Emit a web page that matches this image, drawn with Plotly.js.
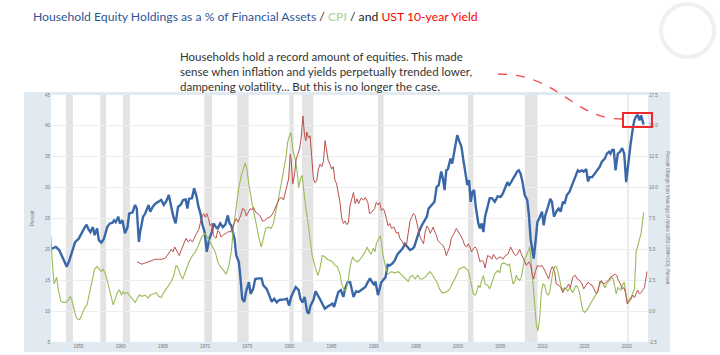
<!DOCTYPE html>
<html><head><meta charset="utf-8">
<script src="https://cdn.plot.ly/plotly-3.0.1.min.js"></script>
<style>html,body{margin:0;padding:0;background:#fff}#chart{width:720px;height:355px}</style>
</head><body><div id="chart"></div><script>
// Household equity holdings as % of financial assets (left axis, percent)
const equityYears = [1951.8,1952.3,1952.7,1953.0,1953.4,1953.6,1953.9,1954.25,1954.6,1955.0,1955.4,1955.75,1955.95,1956.15,1956.4,1956.7,1956.9,1957.2,1957.4,1957.7,1958.0,1958.4,1958.7,1959.0,1959.2,1959.4,1959.7,1959.9,1960.2,1960.5,1960.8,1961.0,1961.4,1961.7,1961.9,1962.15,1962.3,1962.65,1962.9,1963.3,1963.5,1963.8,1964.1,1964.5,1964.8,1965.1,1965.4,1965.7,1966.0,1966.2,1966.5,1966.8,1967.1,1967.4,1967.7,1967.9,1968.1,1968.45,1968.7,1969.0,1969.2,1969.45,1969.7,1969.95,1970.2,1970.5,1970.8,1971.0,1971.3,1971.5,1971.8,1972.1,1972.4,1972.7,1972.9,1973.1,1973.3,1973.5,1973.7,1974.0,1974.2,1974.4,1974.65,1974.85,1975.2,1975.4,1975.7,1975.95,1976.3,1976.7,1976.9,1977.3,1977.6,1977.9,1978.2,1978.5,1978.8,1979.1,1979.4,1979.7,1979.97,1980.2,1980.5,1980.75,1981.1,1981.3,1981.55,1981.8,1982.1,1982.3,1982.5,1982.85,1983.1,1983.4,1983.6,1983.9,1984.2,1984.5,1984.8,1985.1,1985.3,1985.6,1985.8,1986.1,1986.4,1986.6,1986.9,1987.2,1987.6,1987.9,1988.2,1988.6,1989.0,1989.3,1989.55,1989.8,1990.1,1990.2,1990.5,1990.6,1990.9,1991.1,1991.4,1991.65,1991.9,1992.2,1992.5,1992.8,1993.1,1993.4,1993.7,1994.0,1994.3,1994.6,1994.8,1995.1,1995.35,1995.7,1996.0,1996.3,1996.5,1996.85,1997.2,1997.45,1997.7,1998.0,1998.2,1998.4,1998.6,1998.8,1999.1,1999.3,1999.5,1999.7,1999.9,2000.1,2000.4,2000.6,2000.9,2001.1,2001.3,2001.5,2001.7,2001.9,2002.1,2002.4,2002.6,2002.8,2003.0,2003.2,2003.5,2003.75,2004.0,2004.35,2004.7,2005.05,2005.3,2005.6,2005.85,2006.04,2006.24,2006.5,2006.8,2007.0,2007.2,2007.4,2007.6,2007.9,2008.2,2008.4,2008.6,2008.8,2008.96,2009.2,2009.4,2009.7,2009.95,2010.15,2010.34,2010.66,2010.93,2011.13,2011.37,2011.64,2011.92,2012.16,2012.43,2012.63,2012.9,2013.2,2013.5,2013.8,2014.0,2014.2,2014.4,2014.7,2014.9,2015.2,2015.4,2015.6,2015.9,2016.2,2016.5,2016.8,2017.05,2017.4,2017.64,2017.9,2018.07,2018.27,2018.47,2018.67,2018.94,2019.2,2019.45,2019.7,2019.93,2020.2,2020.44,2020.72,2020.9,2021.1,2021.3,2021.5,2021.7,2022.0];
const equityShare = [20.1,20.4,19.9,19.0,17.9,17.2,18.2,19.9,21.2,21.7,22.8,23.6,24.0,23.3,22.8,23.6,22.3,23.4,21.5,21.1,21.7,23.6,24.2,24.3,24.7,24.4,25.3,24.2,24.7,22.6,23.6,25.8,26.0,27.2,26.6,21.2,22.8,25.3,25.8,27.2,26.1,26.9,27.4,27.7,28.0,27.2,27.8,28.8,26.9,25.5,24.2,26.9,27.2,28.0,28.1,26.6,28.2,28.3,29.9,28.5,27.0,25.8,23.9,22.8,19.6,21.7,22.8,24.2,23.6,23.4,24.2,23.6,24.0,25.5,24.2,23.9,22.8,21.7,19.0,18.0,15.3,12.0,11.5,13.1,14.7,12.8,13.6,15.2,15.3,15.3,14.2,13.6,12.6,11.5,12.0,11.4,11.8,11.8,11.9,12.0,10.9,12.3,13.1,13.9,13.4,12.0,11.4,12.3,9.9,9.6,10.9,11.8,13.2,12.6,12.0,11.2,10.4,10.7,10.9,11.2,10.7,12.0,13.1,13.4,12.3,13.6,14.7,14.7,12.3,13.2,13.1,13.5,13.9,14.7,15.3,14.7,14.2,14.8,12.6,13.1,14.7,15.0,15.5,17.5,17.4,17.7,18.2,19.2,19.7,20.1,20.9,20.4,19.9,20.1,20.4,21.7,22.8,23.9,24.7,25.3,26.6,27.2,27.7,30.1,30.4,32.6,31.5,29.6,32.8,33.0,34.7,33.9,35.5,37.4,38.5,37.7,36.6,34.7,32.3,30.4,31.2,27.7,29.3,29.6,26.9,24.2,23.4,24.2,22.8,25.3,26.9,28.3,28.3,27.7,28.6,28.5,29.0,29.9,30.9,30.3,30.7,31.4,32.1,32.6,32.8,32.3,31.2,28.8,28.0,25.5,21.7,20.1,18.5,21.5,24.4,25.3,26.1,23.9,25.5,26.9,28.2,27.7,25.3,26.1,26.6,26.1,27.7,27.4,28.8,29.3,30.4,31.5,32.3,32.8,32.6,32.8,32.6,33.0,31.0,31.7,31.7,32.3,32.7,33.4,34.2,34.7,35.5,35.8,35.5,36.1,36.1,32.8,35.5,35.8,36.4,35.5,30.9,34.7,36.9,39.6,40.9,41.5,41.8,40.9,41.7,40.2];

// CPI, percent change from year ago (right axis)
const cpiYears = [1951.7,1951.8,1951.96,1952.1,1952.3,1952.4,1952.6,1952.9,1953.15,1953.5,1953.8,1954.0,1954.2,1954.45,1954.7,1955.0,1955.2,1955.5,1955.75,1956.0,1956.3,1956.6,1956.9,1957.2,1957.4,1957.7,1957.9,1958.2,1958.5,1958.8,1959.1,1959.3,1959.6,1959.85,1960.1,1960.25,1960.5,1960.8,1961.0,1961.35,1961.7,1961.95,1962.2,1962.5,1962.9,1963.25,1963.5,1963.9,1964.2,1964.5,1964.8,1965.1,1965.4,1965.7,1966.0,1966.3,1966.55,1966.8,1967.1,1967.35,1967.7,1968.1,1968.5,1968.85,1969.2,1969.6,1969.95,1970.2,1970.5,1970.8,1971.2,1971.5,1971.8,1972.2,1972.5,1972.8,1973.1,1973.4,1973.7,1974.0,1974.3,1974.6,1974.76,1974.96,1975.2,1975.55,1975.87,1976.1,1976.4,1976.66,1976.9,1977.2,1977.5,1977.84,1978.1,1978.4,1978.7,1979.0,1979.3,1979.6,1979.8,1980.1,1980.2,1980.4,1980.68,1980.88,1981.1,1981.3,1981.5,1981.7,1981.95,1982.2,1982.45,1982.7,1983.0,1983.36,1983.6,1983.9,1984.2,1984.5,1984.8,1985.1,1985.4,1985.7,1986.0,1986.2,1986.5,1986.7,1986.9,1987.0,1987.2,1987.5,1987.8,1988.1,1988.4,1988.65,1989.0,1989.2,1989.4,1989.7,1989.95,1990.15,1990.3,1990.6,1990.8,1990.9,1991.1,1991.4,1991.7,1992.1,1992.5,1992.9,1993.2,1993.5,1993.8,1994.1,1994.3,1994.6,1994.9,1995.2,1995.5,1995.75,1996.1,1996.3,1996.65,1996.9,1997.25,1997.6,1997.8,1998.1,1998.4,1998.75,1999.0,1999.3,1999.6,1999.9,2000.1,2000.4,2000.7,2001.0,2001.2,2001.4,2001.6,2001.8,2002.0,2002.2,2002.4,2002.6,2002.8,2003.0,2003.2,2003.5,2003.75,2004.0,2004.35,2004.7,2004.95,2005.13,2005.4,2005.73,2005.9,2006.1,2006.3,2006.5,2006.7,2006.9,2007.1,2007.3,2007.5,2007.7,2007.9,2008.1,2008.3,2008.5,2008.7,2008.9,2009.1,2009.3,2009.47,2009.67,2009.87,2010.07,2010.26,2010.46,2010.66,2010.85,2011.05,2011.25,2011.45,2011.64,2011.84,2012.04,2012.24,2012.43,2012.63,2012.83,2013.02,2013.22,2013.4,2013.6,2013.8,2014.0,2014.2,2014.4,2014.6,2014.8,2015.0,2015.2,2015.4,2015.6,2015.8,2016.0,2016.2,2016.4,2016.6,2016.8,2017.0,2017.2,2017.4,2017.6,2017.8,2018.0,2018.2,2018.4,2018.55,2018.75,2018.95,2019.1,2019.3,2019.5,2019.7,2019.93,2020.13,2020.32,2020.52,2020.72,2020.92,2021.11,2021.3,2021.5,2021.7,2022.0];
const cpiYoY = [6.1,4.8,3.2,2.2,2.6,2.75,1.7,0.8,0.7,0.7,0.9,1.2,0.9,0.05,-0.5,-0.7,-0.6,-0.1,0.3,0.5,1.5,2.5,3.4,3.6,3.4,3.2,3.4,3.0,2.2,1.3,0.5,0.9,1.5,1.7,1.3,1.6,1.4,1.5,1.3,1.0,0.7,1.0,1.3,1.2,1.3,1.05,1.3,1.4,1.5,1.2,1.1,1.5,1.8,2.0,2.4,2.9,3.7,3.5,2.9,2.6,3.2,4.0,4.5,4.8,5.3,6.0,6.3,6.1,5.7,5.3,4.8,4.0,3.6,3.3,3.0,3.6,4.8,6.9,8.6,10.0,11.0,11.8,12.0,11.5,10.2,8.8,7.7,6.7,5.9,5.2,5.9,6.7,6.8,6.7,7.1,8.0,9.1,10.2,11.3,12.5,13.7,14.4,14.4,13.1,12.3,11.5,10.0,10.7,11.0,9.6,8.3,7.2,5.9,4.5,3.7,2.9,3.4,4.5,4.4,4.2,4.1,4.0,3.7,3.6,3.0,2.2,1.7,1.7,2.3,2.6,3.6,4.4,4.1,4.0,4.2,4.5,4.8,5.2,4.9,4.6,5.1,4.8,5.45,5.9,6.1,5.6,4.5,3.6,3.0,3.2,3.1,3.2,3.0,2.75,2.6,2.4,2.75,2.9,2.6,2.9,2.6,2.6,2.75,2.9,3.2,3.0,2.6,2.2,1.8,1.5,1.5,1.6,1.8,2.2,2.5,3.0,3.4,3.5,3.6,3.4,3.3,2.75,2.1,1.4,1.3,1.5,2.1,1.9,2.5,2.9,2.2,2.1,1.8,2.35,3.0,3.3,3.1,3.8,3.9,3.8,3.7,3.8,2.9,2.2,2.35,2.9,2.6,2.5,2.75,3.4,4.2,4.5,4.9,5.2,3.7,2.1,0.5,-1.2,-1.6,-0.6,1.5,2.2,2.1,1.5,1.3,1.5,2.35,3.2,3.6,3.6,3.2,2.6,1.9,1.7,1.9,1.8,1.6,1.9,1.7,1.5,1.8,2.1,1.9,1.5,0.7,0.05,-0.1,0.05,0.2,0.5,0.7,1.0,1.1,1.4,1.8,2.2,2.5,2.2,1.9,2.2,2.35,2.5,2.75,2.6,2.1,1.4,1.9,1.8,1.7,2.1,2.35,1.3,0.6,1.0,1.1,1.5,1.8,4.8,5.3,5.6,6.3,8.0];

// 10-year Treasury yield, percent (right axis)
const ustYears = [1961.95,1962.2,1962.5,1962.9,1963.3,1963.7,1964.1,1964.5,1964.9,1965.3,1965.5,1965.8,1966.0,1966.2,1966.4,1966.7,1966.95,1967.2,1967.5,1967.75,1968.0,1968.25,1968.5,1968.8,1969.0,1969.25,1969.56,1969.83,1970.03,1970.2,1970.4,1970.6,1970.8,1971.0,1971.3,1971.5,1971.7,1971.9,1972.2,1972.5,1972.8,1973.0,1973.2,1973.5,1973.7,1973.9,1974.2,1974.45,1974.7,1974.9,1975.1,1975.35,1975.55,1975.75,1976.0,1976.26,1976.54,1976.8,1977.05,1977.3,1977.6,1977.84,1978.1,1978.4,1978.6,1978.8,1979.1,1979.3,1979.5,1979.7,1979.9,1980.1,1980.2,1980.4,1980.6,1980.8,1981.0,1981.2,1981.4,1981.6,1981.8,1981.95,1982.06,1982.26,1982.45,1982.65,1982.85,1983.05,1983.25,1983.44,1983.64,1983.84,1984.03,1984.23,1984.43,1984.6,1984.8,1985.0,1985.2,1985.4,1985.6,1985.8,1986.0,1986.2,1986.4,1986.6,1986.8,1987.0,1987.2,1987.4,1987.6,1987.8,1988.0,1988.2,1988.5,1988.8,1989.0,1989.3,1989.5,1989.75,1990.1,1990.3,1990.5,1990.7,1990.9,1991.1,1991.25,1991.5,1991.7,1991.9,1992.1,1992.4,1992.7,1992.9,1993.1,1993.4,1993.7,1993.9,1994.1,1994.3,1994.5,1994.7,1994.9,1995.1,1995.3,1995.5,1995.7,1995.9,1996.1,1996.3,1996.5,1996.7,1996.85,1997.05,1997.25,1997.45,1997.6,1997.8,1998.0,1998.2,1998.4,1998.6,1998.8,1999.0,1999.2,1999.4,1999.6,1999.8,2000.0,2000.2,2000.4,2000.6,2000.8,2001.0,2001.2,2001.4,2001.6,2001.8,2002.0,2002.2,2002.4,2002.6,2002.8,2003.0,2003.2,2003.5,2003.8,2004.0,2004.2,2004.35,2004.55,2004.75,2005.05,2005.3,2005.6,2005.9,2006.24,2006.5,2006.8,2007.03,2007.3,2007.58,2007.8,2008.1,2008.4,2008.6,2008.8,2008.96,2009.16,2009.4,2009.67,2009.95,2010.2,2010.46,2010.74,2010.97,2011.17,2011.45,2011.64,2011.92,2012.16,2012.43,2012.63,2012.9,2013.1,2013.3,2013.6,2013.9,2014.13,2014.4,2014.7,2014.9,2015.2,2015.4,2015.6,2015.9,2016.1,2016.4,2016.6,2016.8,2017.05,2017.3,2017.56,2017.84,2018.07,2018.35,2018.63,2018.8,2019.0,2019.26,2019.45,2019.65,2019.85,2020.05,2020.2,2020.44,2020.72,2020.92,2021.1,2021.3,2021.5,2021.7,2021.9,2022.1,2022.4];
const ustYield = [4.0,3.9,3.8,3.9,4.0,4.1,4.2,4.2,4.2,4.3,4.5,4.8,5.0,4.8,5.2,4.8,4.5,5.0,5.45,5.9,5.6,5.8,5.6,6.1,6.3,6.6,7.5,7.9,7.6,7.9,7.5,6.9,7.1,6.1,5.9,6.5,6.4,6.0,6.2,6.3,6.45,6.4,6.7,7.1,7.5,7.2,7.7,8.3,8.2,7.7,8.0,8.3,8.2,8.4,8.0,7.9,7.7,7.3,7.3,7.5,7.6,7.7,8.0,8.4,8.8,9.1,9.2,9.0,9.6,10.3,10.7,12.7,12.3,10.3,11.0,12.3,12.7,13.1,14.1,15.8,14.2,13.8,14.5,14.0,14.2,12.3,10.7,10.4,10.6,11.5,11.9,11.7,12.1,13.8,13.0,12.2,11.9,11.5,11.7,10.6,10.3,9.6,8.8,7.5,7.1,7.3,7.0,7.2,8.6,9.1,9.6,8.7,9.1,8.7,9.15,9.0,9.2,8.8,7.9,8.0,8.3,8.8,8.6,8.8,8.15,8.3,8.15,7.5,6.9,7.1,6.7,6.8,6.3,6.4,5.9,5.6,5.2,5.45,6.4,7.3,7.6,7.9,7.75,7.1,6.4,6.0,5.7,5.45,6.4,6.9,6.7,6.3,6.5,6.8,6.4,6.1,5.7,5.6,5.45,5.3,5.05,4.5,4.8,5.2,5.9,6.1,6.4,6.7,6.5,6.3,6.0,5.7,5.3,5.2,5.45,5.2,4.8,5.05,5.2,5.05,4.5,4.0,4.1,4.0,3.5,4.5,4.4,4.2,4.6,4.4,4.2,4.3,4.4,4.2,4.5,4.6,5.2,4.8,4.5,4.6,5.0,4.5,4.1,3.7,4.0,3.7,3.0,2.6,3.2,3.7,3.6,3.7,3.4,3.0,2.6,3.3,3.6,3.2,2.2,2.1,1.9,1.5,1.8,1.9,2.2,1.9,2.75,2.9,2.6,2.5,2.2,1.8,2.1,2.35,2.2,2.1,1.8,1.4,1.6,2.4,2.35,2.2,2.35,2.5,2.75,2.9,3.0,2.9,2.5,2.2,1.8,1.9,1.5,0.6,0.7,0.9,1.3,1.1,1.4,1.7,1.4,1.5,1.7,1.9,3.2];

// NBER recessions (shaded)
const recessionStart = [1953.5,1957.58,1960.25,1969.92,1973.83,1980.0,1981.5,1990.5,2001.17,2007.92,2020.08];
const recessionEnd   = [1954.33,1958.25,1961.08,1970.83,1975.17,1980.5,1982.83,1991.17,2001.83,2009.42,2020.25];

const xTickYears = [1955,1960,1965,1970,1975,1980,1985,1990,1995,2000,2005,2010,2015,2020];
const leftTicks = [5,10,15,20,25,30,35,40,45];
const rightTicks = [-2.5,0,2.5,5,7.5,10,12.5,15,17.5];

// pixel -> paper helpers (plot area: x 51..648, y 95..342)
const L = 51, R = 648, T = 95, B = 342;
const px = v => (v - L) / (R - L);
const py = v => (B - v) / (B - T);

const tickFont = {family: 'Liberation Sans, Arial, sans-serif', size: 4.5, color: '#777777'};

const traces = [
  {x: cpiYears, y: cpiYoY, yaxis: 'y2', type: 'scatter', mode: 'lines', line: {color: '#9bbb59', width: 1.1}, hoverinfo: 'skip'},
  {x: ustYears, y: ustYield, yaxis: 'y2', type: 'scatter', mode: 'lines', line: {color: '#b9504b', width: 1}, hoverinfo: 'skip'},
  {x: equityYears, y: equityShare, yaxis: 'y', type: 'scatter', mode: 'lines', line: {color: '#3a67a8', width: 2.4}, hoverinfo: 'skip'}
];

const shapes = [
  {type: 'rect', xref: 'paper', yref: 'paper', x0: px(24), x1: px(670), y0: py(352), y1: py(92), fillcolor: '#e1e9f1', line: {width: 0}, layer: 'below'},
  {type: 'rect', xref: 'paper', yref: 'paper', x0: 0, x1: 1, y0: 0, y1: 1, fillcolor: '#ffffff', line: {width: 0}, layer: 'below'}
];
recessionStart.forEach((s, i) => shapes.push({type: 'rect', xref: 'x', yref: 'paper', x0: s, x1: recessionEnd[i], y0: 0, y1: 1, fillcolor: '#e3e3e3', line: {width: 0}, layer: 'below'}));
shapes.push({type: 'circle', xref: 'paper', yref: 'paper', x0: px(661), x1: px(714), y0: py(57), y1: py(4), line: {color: '#f0f0f0', width: 4}, layer: 'above'});
shapes.push({type: 'path', xref: 'paper', yref: 'paper',
  path: `M ${px(498)} ${py(74)} C ${px(560)} ${py(74)} ${px(572)} ${py(119)} ${px(622)} ${py(119)}`,
  line: {color: '#f04848', width: 1.3, dash: 'dash'}, layer: 'above'});
shapes.push({type: 'rect', xref: 'paper', yref: 'paper', x0: px(623), x1: px(652), y0: py(127), y1: py(113), line: {color: '#ee2b2b', width: 2}, fillcolor: 'rgba(0,0,0,0)', layer: 'above'});

const annotations = [
  {xref: 'paper', yref: 'paper', x: px(31), y: py(17), xanchor: 'left', yanchor: 'middle', showarrow: false,
   text: '<span style="color:#2f5597">Household Equity Holdings as a % of Financial Assets</span> / <span style="color:#a9d18e">CPI</span> / and <span style="color:#ff0000">UST 10-year Yield</span>',
   font: {family: 'Lato, Carlito, Calibri, sans-serif', size: 12.2, color: '#222222'}},
  {xref: 'paper', yref: 'paper', x: px(178), y: py(71), xanchor: 'left', yanchor: 'middle', align: 'left', showarrow: false,
   text: 'Households hold a record amount of equities. This made<br>sense when inflation and yields perpetually trended lower,<br>dampening volatility... But this is no longer the case.',
   font: {family: 'Lato, sans-serif', size: 11.5, color: '#333333'}},
  {xref: 'paper', yref: 'paper', x: px(32), y: py(218), xanchor: 'center', yanchor: 'middle', showarrow: false, textangle: -90,
   text: 'Percent', font: tickFont},
  {xref: 'paper', yref: 'paper', x: px(668), y: py(218), xanchor: 'center', yanchor: 'middle', showarrow: false, textangle: 90,
   text: 'Percent Change from Year Ago of (Index 1982-1984=100), Percent', font: tickFont}
];

const layout = {
  width: 720, height: 355,
  margin: {l: L, r: 720 - R, t: T, b: 355 - B, pad: 0},
  paper_bgcolor: '#ffffff', plot_bgcolor: 'rgba(0,0,0,0)',
  showlegend: false,
  font: tickFont,
  xaxis: {range: [1951.73, 2022.52], tickvals: xTickYears, ticktext: xTickYears.map(String), ticks: '', showgrid: false, zeroline: false, showline: false, tickfont: tickFont, fixedrange: true},
  yaxis: {range: [5, 45], tickvals: leftTicks, ticktext: leftTicks.map(String), ticks: '', showgrid: true, gridcolor: '#eeeeee', gridwidth: 1, zeroline: false, showline: false, tickfont: tickFont, fixedrange: true},
  yaxis2: {range: [-2.5, 17.5], overlaying: 'y', side: 'right', tickvals: rightTicks, ticktext: rightTicks.map(v => v.toFixed(1)), ticks: '', showgrid: false, zeroline: false, showline: false, tickfont: tickFont, fixedrange: true},
  shapes: shapes,
  annotations: annotations
};

Plotly.newPlot('chart', traces, layout, {displayModeBar: false, staticPlot: true});
</script></body></html>
